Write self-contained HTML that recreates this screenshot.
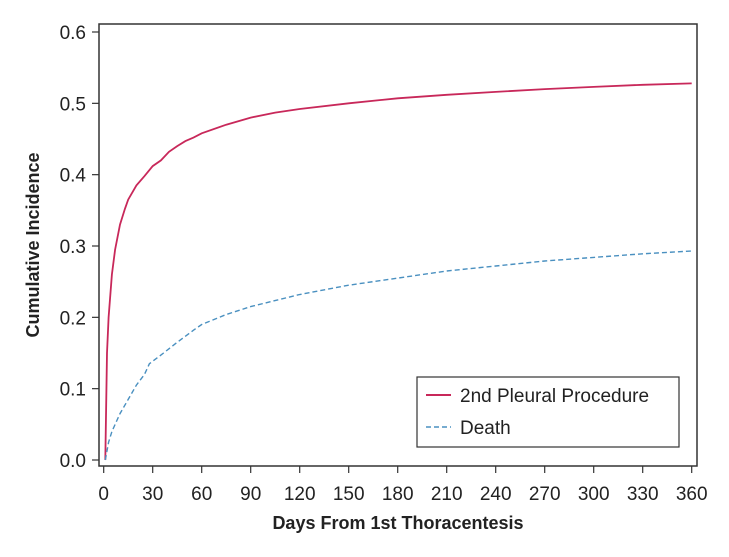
<!DOCTYPE html>
<html><head><meta charset="utf-8"><style>
body{margin:0;background:#fff;}
svg{display:block;font-family:"Liberation Sans",Arial,sans-serif;}
</style></head><body>
<svg id="chart" width="729" height="557">
<rect x="99" y="24" width="598" height="442" fill="none" stroke="#333" stroke-width="1.5"/>
<g id="yaxis"></g>
<g id="xaxis"></g>
<g id="series"></g>
<text x="39" y="245" transform="rotate(-90 39 245)" text-anchor="middle" font-size="18" font-weight="bold" fill="#222">Cumulative Incidence</text>
<text x="398" y="529" text-anchor="middle" font-size="18" font-weight="bold" fill="#222">Days From 1st Thoracentesis</text>
<g>
<rect x="417" y="377" width="262" height="70" fill="#fff" stroke="#333" stroke-width="1.2"/>
<line x1="426" y1="395" x2="451" y2="395" stroke="#c8285a" stroke-width="2"/>
<text x="460" y="402" font-size="19" fill="#222">2nd Pleural Procedure</text>
<line x1="426" y1="427" x2="451" y2="427" stroke="#4a90c0" stroke-width="1.5" stroke-dasharray="5,3"/>
<text x="460" y="434" font-size="19" fill="#222">Death</text>
</g>
</svg>
<script>
const xTicks=[0,30,60,90,120,150,180,210,240,270,300,330,360];
const yTicks=[0.0,0.1,0.2,0.3,0.4,0.5,0.6];
const yTickLabels=["0.0","0.1","0.2","0.3","0.4","0.5","0.6"];
const pleuralDays=[1,2,3,5,7,10,13,15,20,25,30,35,40,45,50,55,60,75,90,105,120,150,180,210,240,270,300,330,360];
const pleuralValues=[0,0.15,0.2,0.26,0.295,0.33,0.352,0.365,0.385,0.398,0.412,0.42,0.432,0.44,0.447,0.452,0.458,0.47,0.48,0.487,0.492,0.5,0.507,0.512,0.516,0.52,0.523,0.526,0.528];
const deathDays=[1,3,5,10,15,20,25,28,35,45,55,60,75,90,120,150,180,210,240,270,300,330,360];
const deathValues=[0,0.025,0.04,0.065,0.085,0.105,0.12,0.135,0.147,0.165,0.182,0.19,0.204,0.215,0.232,0.245,0.255,0.265,0.272,0.279,0.284,0.289,0.293];
const NS="http://www.w3.org/2000/svg";
const X=d=>103.7+d*(691.7-103.7)/360;
const Y=v=>460-v*(460-32)/0.6;
function mk(tag,attrs,parent){const e=document.createElementNS(NS,tag);for(const k in attrs)e.setAttribute(k,attrs[k]);parent.appendChild(e);return e;}
const ya=document.getElementById('yaxis'),xa=document.getElementById('xaxis'),sg=document.getElementById('series');
yTicks.forEach((v,i)=>{
 const l=mk('line',{x1:92,x2:99,y1:Y(v),y2:Y(v),stroke:'#333','stroke-width':1.2},ya);
 
 
 const t=mk('text',{x:86,y:Y(v)+7,'text-anchor':'end','font-size':19,fill:'#222'},ya);
 t.textContent=yTickLabels[i];
 
 
});
xTicks.forEach(d=>{
 const l=mk('line',{x1:X(d),x2:X(d),y1:466,y2:473,stroke:'#333','stroke-width':1.2},xa);
 
 
 const t=mk('text',{x:X(d),y:500,'text-anchor':'middle','font-size':19,fill:'#222'},xa);
 t.textContent=String(d);
 
 
});
function pathD(xs,ys){return xs.map((d,i)=>(i?'L':'M')+X(d).toFixed(1)+','+Y(ys[i]).toFixed(1)).join(' ');}
const p1=mk('path',{d:pathD(pleuralDays,pleuralValues),fill:'none',stroke:'#c8285a','stroke-width':1.8},sg);


const p2=mk('path',{d:pathD(deathDays,deathValues),fill:'none',stroke:'#4a90c0','stroke-width':1.4,'stroke-dasharray':'5,3'},sg);


</script>
</body></html>
